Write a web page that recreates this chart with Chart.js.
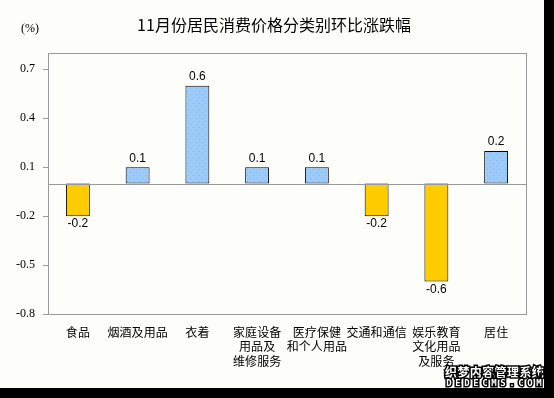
<!DOCTYPE html>
<html>
<head>
<meta charset="utf-8">
<script src="https://cdn.jsdelivr.net/npm/chart.js@4/dist/chart.umd.min.js"></script>
<style>
  html, body { margin: 0; padding: 0; background: #000; }
  #wrap { position: relative; width: 544px; height: 388px; background: #fdfef9; }
</style>
</head>
<body>
<div id="wrap"><canvas id="cpiChart" width="544" height="388"></canvas></div>
<script>
const categories = ["食品", "烟酒及用品", "衣着", ["家庭设备", "用品及", "维修服务"], ["医疗保健", "和个人用品"], "交通和通信", ["娱乐教育", "文化用品", "及服务"], "居住"];
const changes = [-0.2, 0.1, 0.6, 0.1, 0.1, -0.2, -0.6, 0.2];
const yTicks = [-0.8, -0.5, -0.2, 0.1, 0.4, 0.7];
const titleText = "11月份居民消费价格分类别环比涨跌幅";

// dotted light blue fill like the original
function bluePattern() {
    let c = document.createElement("canvas");
    c.width = 6; c.height = 6;
    let g = c.getContext("2d");
    g.fillStyle = "#9dcbf9";
    g.fillRect(0, 0, 6, 6);
    g.fillStyle = "#83b3e6";
    g.fillRect(1, 1, 1, 1);
    g.fillRect(4, 4, 1, 1);
    return g.createPattern(c, "repeat");
}
let blueFill = bluePattern();

const extras = {
    id: "extras",
    afterDatasetsDraw(chart) {
        let ctx = chart.ctx;
        let area = chart.chartArea;
        let y = chart.scales.y;
        ctx.save();
        // zero line
        ctx.strokeStyle = "#999";
        ctx.lineWidth = 1;
        let y0 = Math.round(y.getPixelForValue(0)) + 0.5;
        ctx.beginPath();
        ctx.moveTo(area.left, y0);
        ctx.lineTo(area.right, y0);
        ctx.stroke();
        // plot frame
        ctx.strokeRect(Math.round(area.left) + 0.5, Math.round(area.top) + 0.5,
            Math.round(area.right - area.left), Math.round(area.bottom - area.top));

        // value labels
        ctx.fillStyle = "#000";
        ctx.font = "12px 'Liberation Sans', Arial, sans-serif";
        ctx.textAlign = "center";
        ctx.textBaseline = "middle";
        let meta = chart.getDatasetMeta(0);
        meta.data.forEach((bar, i) => {
            let v = changes[i];
            let ly = v >= 0 ? bar.y - 9 : bar.y + 8;
            ctx.fillText(v.toFixed(1), bar.x, ly);
        });

        // title and unit
        ctx.font = "16px 'Noto Sans CJK SC', sans-serif";
        ctx.fillStyle = "#000";
        ctx.fillText(titleText, 274, 25);
        ctx.font = "12px 'Liberation Serif', 'Times New Roman', serif";
        ctx.fillText("(%)", 30, 29);

        // site watermark
        ctx.font = "bold 12px 'Noto Sans CJK SC', sans-serif";
        ctx.lineWidth = 3;
        ctx.strokeStyle = "#000";
        ctx.fillStyle = "#fff";
        let mark = "织梦内容管理系统";
        for (let i = 0; i < mark.length; i++) {
            let cx = 451 + i * 12.4;
            ctx.strokeText(mark[i], cx, 372);
            ctx.fillText(mark[i], cx, 372);
        }
        ctx.font = "bold 9px 'DejaVu Sans Mono', monospace";
        let site = "DEDECMS.COM";
        for (let i = 0; i < site.length; i++) {
            let cx = 449 + i * 9;
            ctx.strokeText(site[i], cx, 384);
            ctx.fillText(site[i], cx, 384);
        }
        ctx.restore();
    }
};

let ctx = document.getElementById("cpiChart").getContext("2d");
let cpiChart = new Chart(ctx, {
    type: "bar",
    data: {
        labels: categories,
        datasets: [{
            data: changes,
            backgroundColor: changes.map(v => v < 0 ? "#ffcc00" : blueFill),
            borderColor: "#000",
            borderWidth: 1,
            borderSkipped: false,
            barPercentage: 0.4,
            categoryPercentage: 1.0
        }]
    },
    options: {
        responsive: false,
        animation: false,
        layout: { padding: { left: 0, right: 18, top: 53, bottom: 4 } },
        plugins: {
            legend: { display: false },
            tooltip: { enabled: false },
            title: { display: false }
        },
        scales: {
            x: {
                grid: { display: false },
                border: { display: false },
                ticks: {
                    color: "#000",
                    font: { family: "'Noto Sans CJK SC', sans-serif", size: 12 },
                    padding: 3,
                    maxRotation: 0,
                    autoSkip: false
                },
                afterFit(scale) { scale.height = 70; }
            },
            y: {
                min: -0.8,
                max: 0.8,
                afterBuildTicks(scale) { scale.ticks = yTicks.map(v => ({ value: v })); },
                grid: { drawOnChartArea: false, drawTicks: true, tickLength: 5, color: "#999" },
                border: { display: false },
                ticks: {
                    color: "#000",
                    font: { family: "'Liberation Serif', 'Times New Roman', serif", size: 12 },
                    padding: 8,
                    callback: v => v.toFixed(1)
                },
                afterFit(scale) { scale.width = 48; }
            }
        }
    },
    plugins: [extras]
});
</script>
</body>
</html>
